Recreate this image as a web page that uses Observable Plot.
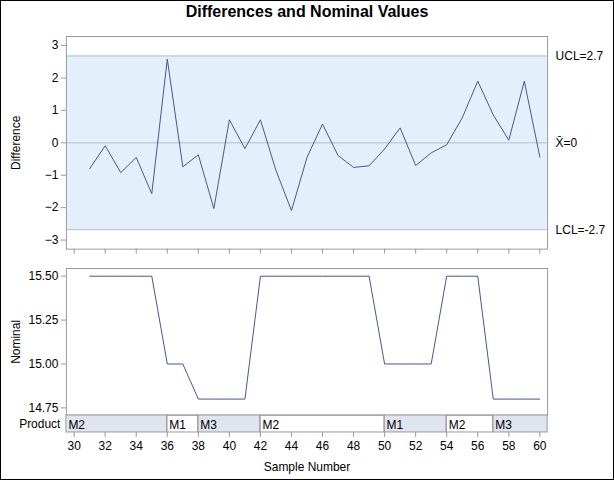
<!DOCTYPE html>
<html>
<head>
<meta charset="utf-8">
<script src="https://cdn.jsdelivr.net/npm/d3@7"></script>
<script src="https://cdn.jsdelivr.net/npm/@observablehq/plot@0.6"></script>
<style>
  html, body { margin: 0; padding: 0; background: #fff; }
  #wrap { position: relative; width: 612px; height: 478px; border: 1px solid #000; font-family: "Liberation Sans", Arial, sans-serif; overflow: hidden; }
  #title { position: absolute; left: 0; top: 2px; width: 612px; text-align: center; font-weight: bold; font-size: 16px; color: #000; }
  .panel { position: absolute; left: -1px; }
  .panel svg { display: block; overflow: visible; }
</style>
</head>
<body>
<div id="wrap">
  <div id="title">Differences and Nominal Values</div>
  <div class="panel" id="top" style="top:29px"></div>
  <div class="panel" id="mid" style="top:259px"></div>
  <div class="panel" id="bot" style="top:413px"></div>
</div>
<script>
// ---- data ----
const samples = [31,32,33,34,35,36,37,38,39,40,41,42,43,44,45,46,47,48,49,50,51,52,53,54,55,56,57,58,59,60];
const difference = [-0.80,-0.09,-0.92,-0.45,-1.57,2.58,-0.74,-0.37,-2.03,0.71,-0.18,0.71,-0.85,-2.09,-0.45,0.58,-0.39,-0.76,-0.71,-0.19,0.46,-0.70,-0.31,-0.06,0.77,1.90,0.86,0.08,1.90,-0.44];
const nominal = [15.5,15.5,15.5,15.5,15.5,15.0,15.0,14.8,14.8,14.8,14.8,15.5,15.5,15.5,15.5,15.5,15.5,15.5,15.5,15.0,15.0,15.0,15.0,15.5,15.5,15.5,14.8,14.8,14.8,14.8];
const limitValues = [2.68, 0, -2.68];
const limitLabels = ["UCL=2.7", "X\u0304=0", "LCL=-2.7"];
const products = ["M2","M1","M3","M2","M1","M2","M3"];
const productStart = [31,36,38,42,50,54,57];
const xTicks = [30,32,34,36,38,40,42,44,46,48,50,52,54,56,58,60];
const diffTicks = [-3,-2,-1,0,1,2,3];
const nominalTicks = [14.75,15.00,15.25,15.50];

// ---- styles ----
const xDomain = [29.5, 60.5];
const font = "Liberation Sans, Arial, sans-serif";
const frameColor = "#9a9a9a";
const lineColor = "#445694";
const refColor = "#b4bccb";
const bandColor = "#e4effc";
const stripColor = "#dfe4ee";

const diffData = samples.map((s, i) => ({sample: s, value: difference[i]}));
const nomData = samples.map((s, i) => ({sample: s, value: nominal[i]}));
const limitData = limitValues.map((v, i) => ({value: v, label: limitLabels[i]}));
const segData = products.map((p, i) => ({
  product: p,
  x1: i === 0 ? xDomain[0] : productStart[i],
  x2: i === products.length - 1 ? xDomain[1] : productStart[i + 1],
  filled: i % 2 === 0
}));

const common = {width: 614, marginLeft: 66, marginRight: 66, style: {fontFamily: font, fontSize: "12px", color: "#000", background: "transparent", overflow: "visible"}};

const topChart = Plot.plot({
  ...common,
  height: 230, marginTop: 6, marginBottom: 11,
  x: {domain: xDomain},
  y: {domain: [-3.28, 3.28]},
  marks: [
    Plot.rect([limitData[0]], {x1: () => xDomain[0], x2: () => xDomain[1], y1: () => limitValues[2], y2: () => limitValues[0], fill: bandColor}),
    Plot.ruleY(limitData, {y: "value", stroke: refColor, strokeWidth: 1}),
    Plot.line(diffData, {x: "sample", y: "value", stroke: lineColor, strokeWidth: 1}),
    Plot.text(limitData, {x: () => xDomain[1], y: "value", text: "label", textAnchor: "start", dx: 8, fontSize: 12, fill: "#000"}),
    Plot.frame({stroke: frameColor}),
    Plot.axisY(diffTicks, {tickSize: 5, tickPadding: 3, stroke: frameColor, fill: "#000", fontSize: 12, label: "Difference", labelAnchor: "center", labelArrow: "none", labelOffset: 55}),
    Plot.axisX(xTicks, {tickSize: 5, stroke: frameColor, tickFormat: () => "", label: null})
  ]
});

const midChart = Plot.plot({
  ...common,
  height: 155, marginTop: 8, marginBottom: 0,
  x: {domain: xDomain, axis: null},
  y: {domain: [14.708, 15.544]},
  marks: [
    Plot.line(nomData, {x: "sample", y: "value", stroke: lineColor, strokeWidth: 1}),
    Plot.frame({stroke: frameColor}),
    Plot.axisY(nominalTicks, {tickSize: 5, tickPadding: 3, stroke: frameColor, fill: "#000", fontSize: 12, tickFormat: d3.format(".2f"), label: "Nominal", labelAnchor: "center", labelArrow: "none", labelOffset: 55})
  ]
});

const botChart = Plot.plot({
  ...common,
  height: 67, marginTop: 1, marginBottom: 49,
  x: {domain: xDomain},
  y: {domain: ["Product"], padding: 0},
  marks: [
    Plot.rect(segData.filter(d => d.filled), {x1: "x1", x2: "x2", y: () => "Product", fill: stripColor}),
    Plot.rect(segData, {x1: "x1", x2: "x2", y: () => "Product", stroke: frameColor, fill: "none"}),
    Plot.text(segData, {x: "x1", y: () => "Product", text: "product", textAnchor: "start", dx: 2, dy: 1, fontSize: 12, fill: "#000"}),
    Plot.axisY({tickSize: 0, tickPadding: 6, fill: "#000", fontSize: 12, label: null}),
    Plot.axisX(xTicks, {tickSize: 5, tickPadding: 4, stroke: frameColor, fill: "#000", fontSize: 12, label: "Sample Number", labelAnchor: "center", labelArrow: "none", labelOffset: 39})
  ]
});

document.getElementById("top").appendChild(topChart);
document.getElementById("mid").appendChild(midChart);
document.getElementById("bot").appendChild(botChart);
</script>
</body>
</html>
